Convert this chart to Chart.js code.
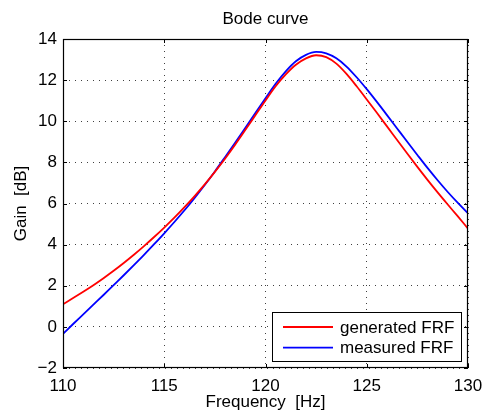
<!DOCTYPE html>
<html>
<head>
<meta charset="utf-8">
<script src="https://cdn.jsdelivr.net/npm/chart.js@4/dist/chart.umd.min.js"></script>
<style>
    html, body { margin: 0; padding: 0; background: #fff; }
    #wrap { width: 484px; height: 414px; }
</style>
</head>
<body>
<div id="wrap"><canvas id="bode"></canvas></div>
<script>
// Frequency points [Hz]
const freqs = [110, 110.5, 111, 111.5, 112, 112.5, 113, 113.5, 114, 114.5,
               115, 115.5, 116, 116.5, 117, 117.5, 118, 118.5, 119, 119.5,
               120, 120.5, 121, 121.5, 122, 122.5, 123, 123.5, 124, 124.5,
               125, 125.5, 126, 126.5, 127, 127.5, 128, 128.5, 129, 129.5, 130];

// Gain [dB], generated FRF (red)
const generatedGain = [1.10, 1.40, 1.71, 2.03, 2.37, 2.73, 3.11, 3.51, 3.93, 4.37,
                       4.83, 5.31, 5.82, 6.36, 6.93, 7.54, 8.18, 8.86, 9.57, 10.29,
                       11.01, 11.70, 12.28, 12.75, 13.06, 13.21, 13.12, 12.80, 12.30, 11.70,
                       11.06, 10.41, 9.75, 9.09, 8.43, 7.78, 7.15, 6.54, 5.95, 5.37, 4.78];

// Gain [dB], measured FRF (blue)
const measuredGain = [-0.34, 0.14, 0.61, 1.08, 1.55, 2.03, 2.51, 3.00, 3.50, 4.02,
                      4.55, 5.10, 5.67, 6.27, 6.90, 7.56, 8.25, 8.95, 9.67, 10.40,
                      11.12, 11.82, 12.43, 12.92, 13.23, 13.37, 13.30, 13.06, 12.66, 12.14,
                      11.56, 10.94, 10.30, 9.65, 9.00, 8.36, 7.73, 7.13, 6.56, 6.03, 5.53];

const xTicks = [110, 115, 120, 125, 130];
const yTicks = [-2, 0, 2, 4, 6, 8, 10, 12, 14];

const seriesLabels = ['generated FRF', 'measured FRF'];
const seriesColors = ['#ff0000', '#0000ff'];

const FONT = '"Liberation Sans", Arial, sans-serif';
Chart.defaults.font.family = FONT;
Chart.defaults.font.size = 17;
Chart.defaults.color = '#000';

// MATLAB style box with inward ticks, plus the legend inside the axes
const framePlugin = {
    id: 'frame',
    afterDatasetsDraw(chart) {
        const { ctx, chartArea: a, scales: { x, y } } = chart;
        const tick = 4;
        ctx.save();
        ctx.strokeStyle = '#000';
        ctx.lineWidth = 1;
        ctx.beginPath();
        xTicks.forEach(v => {
            const px = Math.round(x.getPixelForValue(v)) + 0.5;
            ctx.moveTo(px, a.bottom); ctx.lineTo(px, a.bottom - tick);
            ctx.moveTo(px, a.top); ctx.lineTo(px, a.top + tick);
        });
        yTicks.forEach(v => {
            const py = Math.round(y.getPixelForValue(v)) + 0.5;
            ctx.moveTo(a.left, py); ctx.lineTo(a.left + tick, py);
            ctx.moveTo(a.right, py); ctx.lineTo(a.right - tick, py);
        });
        ctx.stroke();
        ctx.lineWidth = 1.2;
        ctx.strokeRect(a.left + 0.5, a.top + 0.5, a.right - a.left - 1, a.bottom - a.top - 1);

        // legend
        const lx = 272, ly = 312, lw = 189, lh = 49;
        ctx.fillStyle = '#fff';
        ctx.fillRect(lx, ly, lw, lh);
        ctx.lineWidth = 1;
        ctx.strokeStyle = '#000';
        ctx.strokeRect(lx + 0.5, ly + 0.5, lw, lh);
        ctx.font = '17px ' + FONT;
        ctx.textBaseline = 'middle';
        ctx.textAlign = 'left';
        chart.data.datasets.forEach((ds, i) => {
            const ry = ly + 15 + i * 20.6;
            ctx.strokeStyle = ds.borderColor;
            ctx.lineWidth = 1.8;
            ctx.beginPath();
            ctx.moveTo(283, ry); ctx.lineTo(333, ry);
            ctx.stroke();
            ctx.fillStyle = '#000';
            ctx.fillText(ds.label, 340, ry + 1);
        });
        ctx.restore();
    }
};

const minusSign = v => String(v).replace('-', '\u2212');

const ctx = document.getElementById('bode').getContext('2d');
new Chart(ctx, {
    type: 'line',
    data: {
        datasets: [
            {
                label: seriesLabels[0],
                data: freqs.map((f, i) => ({ x: f, y: generatedGain[i] })),
                borderColor: seriesColors[0],
                borderWidth: 1.8,
                pointRadius: 0,
                cubicInterpolationMode: 'monotone',
                fill: false
            },
            {
                label: seriesLabels[1],
                data: freqs.map((f, i) => ({ x: f, y: measuredGain[i] })),
                borderColor: seriesColors[1],
                borderWidth: 1.8,
                pointRadius: 0,
                cubicInterpolationMode: 'monotone',
                fill: false
            }
        ]
    },
    options: {
        responsive: true,
        maintainAspectRatio: false,
        animation: false,
        layout: { padding: { left: 0, right: 16, top: 0, bottom: 0 } },
        plugins: {
            legend: { display: false },
            tooltip: { enabled: false },
            title: {
                display: true,
                text: 'Bode curve',
                fullSize: false,
                font: { size: 17, weight: 'normal', lineHeight: 1.2 },
                padding: { top: 9, bottom: 9.6 }
            }
        },
        scales: {
            x: {
                type: 'linear',
                min: 110,
                max: 130,
                afterBuildTicks: scale => { scale.ticks = xTicks.map(v => ({ value: v })); },
                afterFit: scale => { scale.height = 46; scale.paddingLeft = 0; scale.paddingRight = 0; },
                ticks: { padding: 8, maxRotation: 0, font: { size: 17 }, callback: minusSign },
                grid: { color: 'rgba(0,0,0,0.75)', lineWidth: 1, drawTicks: false },
                border: { display: false, dash: [1, 5] },
                title: { display: true, text: 'Frequency  [Hz]', font: { size: 17 }, padding: { top: 0, bottom: 1 } }
            },
            y: {
                min: -2,
                max: 14,
                afterBuildTicks: scale => { scale.ticks = yTicks.map(v => ({ value: v })); },
                afterFit: scale => { scale.width = 63; },
                ticks: { padding: 6, font: { size: 17 }, callback: minusSign },
                grid: { color: 'rgba(0,0,0,0.75)', lineWidth: 1, drawTicks: false },
                border: { display: false, dash: [1, 5] },
                title: { display: true, text: 'Gain  [dB]', font: { size: 17 }, padding: { top: 11, bottom: 0 } }
            }
        }
    },
    plugins: [framePlugin]
});
</script>
</body>
</html>
